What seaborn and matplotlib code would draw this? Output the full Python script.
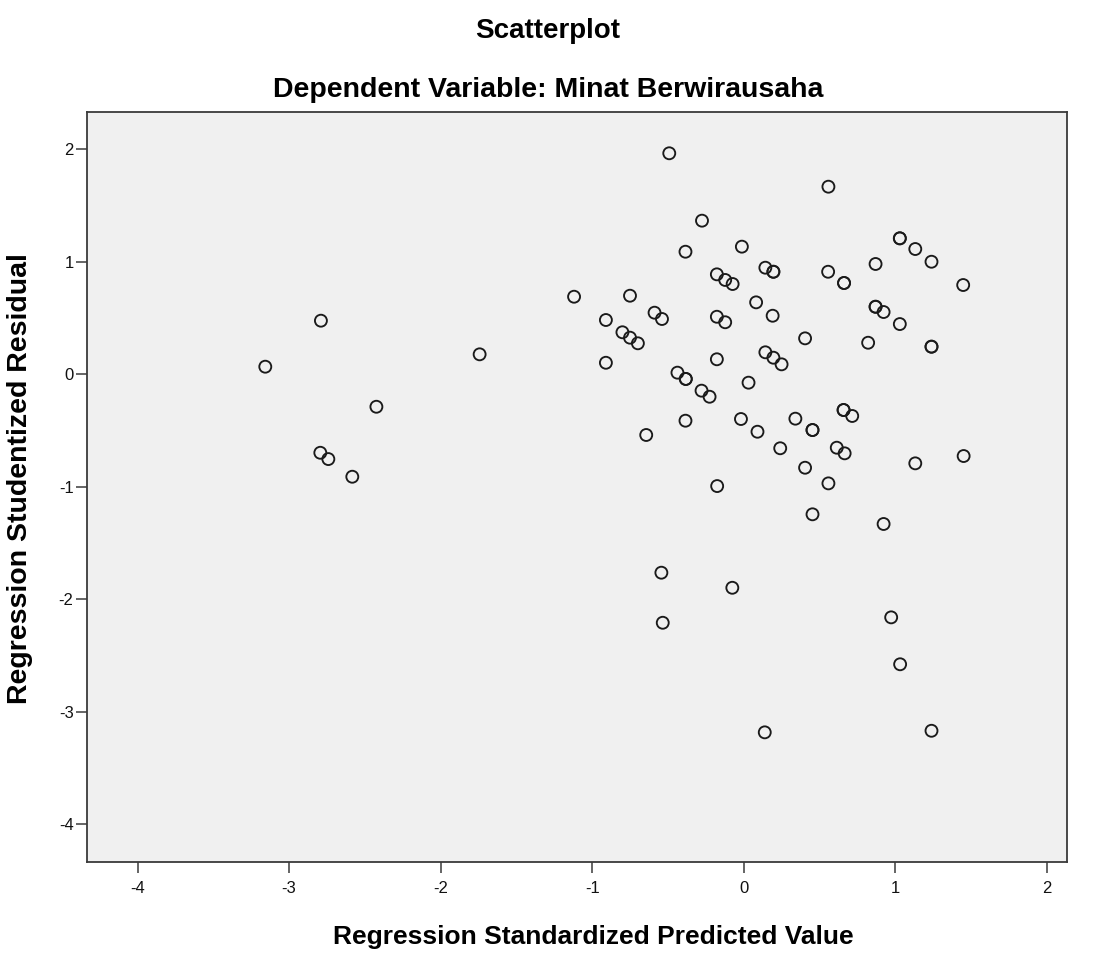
import matplotlib
matplotlib.use("Agg")
import matplotlib.pyplot as plt
import seaborn as sns
import pandas as pd

# Regression standardized predicted value (x) and studentized residual (y)
pred_value = [
    -2.790, -3.157, -1.743, -1.120, -2.424, -2.794, -2.741, -2.583,
    -0.492, 0.558, -0.276, -0.385, -0.013, 1.029, 1.029, 1.131, 1.238,
    0.869, 1.447, 0.556, 0.661, 0.661, 0.142, 0.195, 0.195, -0.178,
    -0.123, -0.074, -0.751, -0.910, -0.589, -0.540, -0.801, -0.751,
    -0.699, -0.178, -0.123, 0.081, 0.190, 0.869, 0.869, 0.922, 1.029,
    0.404, 0.820, 1.238, 1.238,
    -0.910, -0.178, 0.142, 0.195, 0.249, -0.438, -0.383, -0.383,
    -0.279, -0.226, 0.031, 0.658, 0.658, 0.715, 0.340, 0.453, 0.453,
    -0.019, 0.090, -0.385, -0.644, 0.240, 0.613, 0.665, 0.404, 1.131,
    1.450, 0.558, -0.176, 0.453, 0.922,
    -0.544, -0.076, -0.535, 0.972, 1.031, 0.138, 1.238,
]
stud_resid = [
    0.474, 0.065, 0.175, 0.687, -0.291, -0.700, -0.756, -0.913,
    1.962, 1.665, 1.363, 1.087, 1.132, 1.206, 1.206, 1.111, 0.998,
    0.978, 0.791, 0.909, 0.809, 0.809, 0.945, 0.909, 0.909, 0.886,
    0.836, 0.800, 0.696, 0.480, 0.545, 0.489, 0.371, 0.323,
    0.273, 0.509, 0.460, 0.637, 0.518, 0.598, 0.598, 0.551, 0.444,
    0.317, 0.278, 0.243, 0.243,
    0.100, 0.131, 0.193, 0.145, 0.086, 0.012, -0.044, -0.044,
    -0.148, -0.202, -0.077, -0.320, -0.320, -0.373, -0.397, -0.498, -0.498,
    -0.400, -0.513, -0.415, -0.542, -0.660, -0.655, -0.705, -0.833, -0.794,
    -0.729, -0.972, -0.996, -1.247, -1.333,
    -1.766, -1.900, -2.211, -2.163, -2.580, -3.185, -3.171,
]
x_ticks = [-4, -3, -2, -1, 0, 1, 2]
y_ticks = [2, 1, 0, -1, -2, -3, -4]

df = pd.DataFrame({"pred": pred_value, "resid": stud_resid})

sns.set_style("white")
plt.rcParams["font.family"] = ["Liberation Sans", "DejaVu Sans"]
plt.rcParams["text.color"] = "black"
plt.rcParams["xtick.labelcolor"] = "#111111"
plt.rcParams["ytick.labelcolor"] = "#111111"

fig = plt.figure(figsize=(10.99, 9.58), dpi=100)
ax = fig.add_axes([0.0796, 0.1005, 0.8913, 0.7826])
ax.set_facecolor("#f0f0f0")

sns.scatterplot(data=df, x="pred", y="resid", ax=ax, marker="o",
                facecolors="none", edgecolor="#1a1a1a", s=74, linewidth=1.35)

ax.set_xlim(-4.330, 2.132)
ax.set_ylim(-4.335, 2.329)
ax.set_xticks(x_ticks)
ax.set_yticks(y_ticks)
ax.set_xticklabels([str(t) for t in x_ticks])
ax.set_yticklabels([str(t) for t in y_ticks])

for sp in ax.spines.values():
    sp.set_color("#3a3a3a")
    sp.set_linewidth(1.3)
ax.tick_params(axis="x", direction="out", length=8, width=1.1, color="#3a3a3a",
               labelsize=12, pad=6, bottom=True)
ax.tick_params(axis="y", direction="out", length=8, width=1.1, color="#3a3a3a",
               labelsize=12, pad=2, left=True)

ax.set_xlabel("")
ax.set_ylabel("")
fig.text(593, 958 - 944, "Regression Standardized Predicted Value",
         transform=None, ha="center", va="baseline", fontsize=19, fontweight="bold")
fig.text(33, 958 - 479, "Regression Studentized Residual", transform=None,
         rotation=90, ha="right", va="center", fontsize=20.5, fontweight="bold")
fig.text(548, 958 - 38, "Scatterplot", transform=None, ha="center",
         va="baseline", fontsize=20, fontweight="bold")
fig.text(548, 958 - 97, "Dependent Variable: Minat Berwirausaha", transform=None,
         ha="center", va="baseline", fontsize=20.5, fontweight="bold")

fig.savefig("out.png", dpi=100)
